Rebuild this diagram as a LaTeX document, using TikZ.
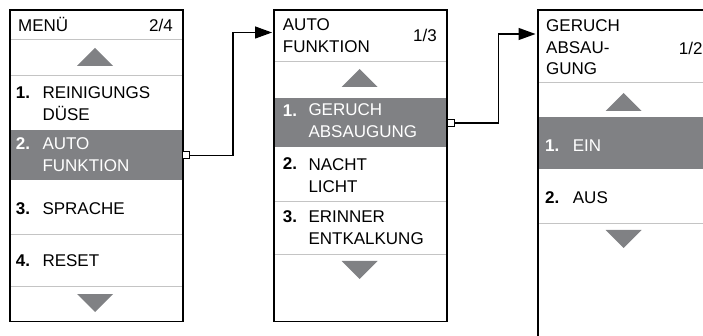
\documentclass[tikz,border=0pt]{standalone}
\usepackage{fontspec}
\setmainfont{Liberation Sans}
\usetikzlibrary{arrows.meta}

\definecolor{bandgray}{HTML}{808184}
\definecolor{rulegray}{HTML}{C4C4C4}

% triangles of the scroll marks: centre x, top y
\newcommand\uptri[2]{\fill[bandgray] (#1-18,#2+18) -- (#1+18,#2+18) -- (#1,#2) -- cycle;}
\newcommand\downtri[2]{\fill[bandgray] (#1-18,#2) -- (#1+18,#2) -- (#1,#2+18) -- cycle;}

\tikzset{
  frame/.style={draw=black, line width=1.5pt, anchor=north west, inner sep=0pt, minimum width=173pt},
  band/.style={fill=bandgray},
  rule/.style={draw=rulegray, line width=0.8pt},
  txt/.style={anchor=base west, inner sep=0pt, align=left, font=\fontsize{17}{22}\selectfont},
  num/.style={txt, font=\fontsize{17}{22}\selectfont\bfseries},
  page/.style={txt, anchor=base east},
  white/.style={text=white},
  marker/.style={draw=black, fill=white, line width=1pt, minimum size=7pt, inner sep=0pt},
  link/.style={draw=black, line width=1.3pt, -{Triangle[length=17pt, width=12pt]}}
}

\begin{document}
\begin{tikzpicture}[x=1pt, y=-1pt]
  \useasboundingbox (0,0) rectangle (703,336);
  \clip (0,0) rectangle (703,336);

  % gray bands of the chosen entries
  \fill[band] (9,130) rectangle (181.5,180);
  \fill[band] (273,97.7) rectangle (446.5,146.7);
  \fill[band] (537,117) rectangle (710,169.3);

  % separating rules
  \foreach \y in {39.3,75.5,234.3,286.7} \draw[rule] (9,\y) -- (181.5,\y);
  \foreach \y in {61,201,254} \draw[rule] (273,\y) -- (446.5,\y);
  \foreach \y in {82.7,223} \draw[rule] (537,\y) -- (710,\y);

  % scroll marks
  \uptri{95}{48} \downtri{95}{294}
  \uptri{359.5}{69} \downtri{359.5}{261}
  \uptri{623.5}{93} \downtri{623.5}{230}

  % frames
  \node[frame, minimum height=311.4pt] (menu) at (9,9.3) {};
  \node[frame, minimum height=311.4pt] (auto) at (273,9.3) {};
  \node[frame, minimum height=400pt] (geruch) at (537,9.3) {};

  % first menu (multi-line texts sit on their last line)
  \node[txt] (menuhead) at (18,31.7) {MENÜ};
  \node[page] (menupage) at (173,31.7) {2/4};
  \node[num] (m1n) at (15.7,98.5) {1.};
  \node[txt] (m1) at (42.3,120.5) {REINIGUNGS\\DÜSE};
  \node[num, white] (m2n) at (15.7,150) {2.};
  \node[txt, white] (m2) at (42.3,172) {AUTO\\FUNKTION};
  \node[num] (m3n) at (15.7,215) {3.};
  \node[txt] (m3) at (42.3,215) {SPRACHE};
  \node[num] (m4n) at (15.7,267) {4.};
  \node[txt] (m4) at (42.3,267) {RESET};

  % second menu
  \node[txt] (autohead) at (282.7,52.5) {AUTO\\FUNKTION};
  \node[page] (autopage) at (437,42) {1/3};
  \node[num, white] (a1n) at (282.7,116.7) {1.};
  \node[txt, white] (a1) at (308.3,138) {GERUCH\\ABSAUGUNG};
  \node[num] (a2n) at (282.7,170) {2.};
  \node[txt] (a2) at (308.3,192.5) {NACHT\\LICHT};
  \node[num] (a3n) at (282.7,222.7) {3.};
  \node[txt] (a3) at (308.3,245) {ERINNER\\ENTKALKUNG};

  % third menu
  \node[txt, font=\fontsize{17}{21.7}\selectfont] (geruchhead) at (546,75) {GERUCH\\ABSAU-\\GUNG};
  \node[page] (geruchpage) at (702.7,55) {1/2};
  \node[num, white] (g1n) at (545,151.5) {1.};
  \node[txt, white] (g1) at (572.7,151.5) {EIN};
  \node[num] (g2n) at (545,203.5) {2.};
  \node[txt] (g2) at (572.7,203.5) {AUS};

  % connectors
  \node[marker] (sq1) at (185.5,155.5) {};
  \node[marker] (sq2) at (451,123) {};
  \coordinate (in2) at (272,32.5);
  \coordinate (in3) at (535.5,34);
  \coordinate (knee1) at (233,0);
  \coordinate (knee2) at (498.3,0);
  \draw[link] (sq1.east) -| (knee1 |- in2) -- (in2);
  \draw[link] (sq2.east) -| (knee2 |- in3) -- (in3);
\end{tikzpicture}
\end{document}
